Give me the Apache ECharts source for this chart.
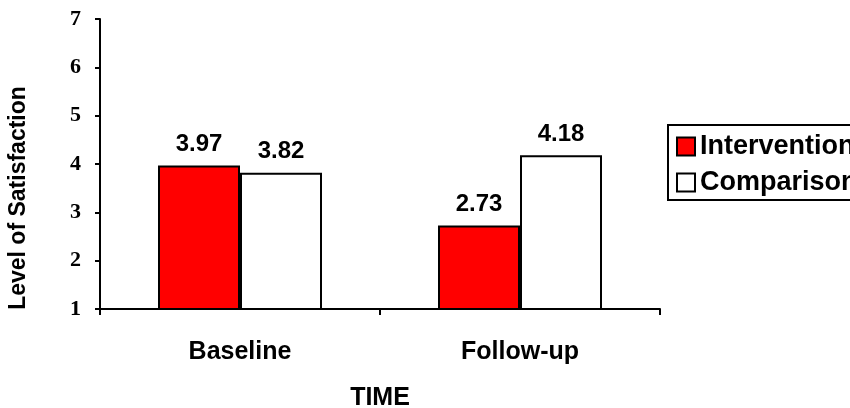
<!DOCTYPE html>
<html>
<head>
<meta charset="utf-8">
<script src="https://cdn.jsdelivr.net/npm/echarts@6/dist/echarts.min.js"></script>
<style>html,body{margin:0;padding:0;background:#fff}#c{width:850px;height:408px}</style>
</head>
<body>
<div id="c"></div>
<script>
const categories = ['Baseline', 'Follow-up'];
const intervention = [3.97, 2.73];
const comparison = [3.82, 4.18];
const seriesNames = ['Intervention', 'Comparison'];
const yMin = 1, yMax = 7, yStep = 1;

const chart = echarts.init(document.getElementById('c'), null, {renderer: 'canvas'});
const sans = '"Liberation Sans", Arial, sans-serif';
const serif = '"Liberation Serif", "Times New Roman", serif';
const labelCfg = {
  show: true, position: 'top', distance: 9,
  fontFamily: sans, fontWeight: 'bold', fontSize: 24, color: '#000',
  formatter: p => p.value.toFixed(2)
};
chart.setOption({
  animation: false,
  backgroundColor: '#fff',
  grid: {left: 100, right: 190, top: 19, bottom: 99, containLabel: false, outerBoundsMode: 'none'},
  legend: {
    orient: 'vertical', left: 668, top: 125,
    padding: [8, 200, 4, 8],
    borderColor: '#000', borderWidth: 2,
    itemWidth: 18, itemHeight: 18, itemGap: 9,
    icon: 'rect',
    textStyle: {fontFamily: sans, fontWeight: 'bold', fontSize: 27, color: '#000', lineHeight: 18, padding: [0,0,0,0]},
    data: seriesNames
  },
  xAxis: {
    type: 'category', data: categories,
    name: 'TIME', nameLocation: 'middle', nameGap: 77,
    nameTextStyle: {fontFamily: sans, fontWeight: 'bold', fontSize: 25, color: '#000'},
    axisLine: {lineStyle: {color: '#000', width: 2}},
    axisTick: {show: true, length: 6, lineStyle: {color: '#000', width: 2}},
    axisLabel: {fontFamily: sans, fontWeight: 'bold', fontSize: 25, color: '#000', margin: 31}
  },
  yAxis: {
    type: 'value', min: yMin, max: yMax, interval: yStep,
    name: 'Level of Satisfaction', nameLocation: 'middle', nameGap: 70,
    nameTextStyle: {fontFamily: sans, fontWeight: 'bold', fontSize: 23, color: '#000', padding: [0, 68, 0, 0]},
    axisLine: {show: true, lineStyle: {color: '#000', width: 2}},
    axisTick: {show: true, length: 5, lineStyle: {color: '#000', width: 2}},
    axisLabel: {fontFamily: serif, fontWeight: 'bold', fontSize: 22, color: '#000', margin: 19},
    splitLine: {show: false}
  },
  series: [
    {name: seriesNames[0], type: 'bar', data: intervention, barWidth: 82, barGap: '0%',
     itemStyle: {color: '#ff0000', borderColor: '#000', borderWidth: 2}, label: labelCfg},
    {name: seriesNames[1], type: 'bar', data: comparison, barWidth: 82,
     itemStyle: {color: '#ffffff', borderColor: '#000', borderWidth: 2}, label: labelCfg}
  ]
});
</script>
</body>
</html>
